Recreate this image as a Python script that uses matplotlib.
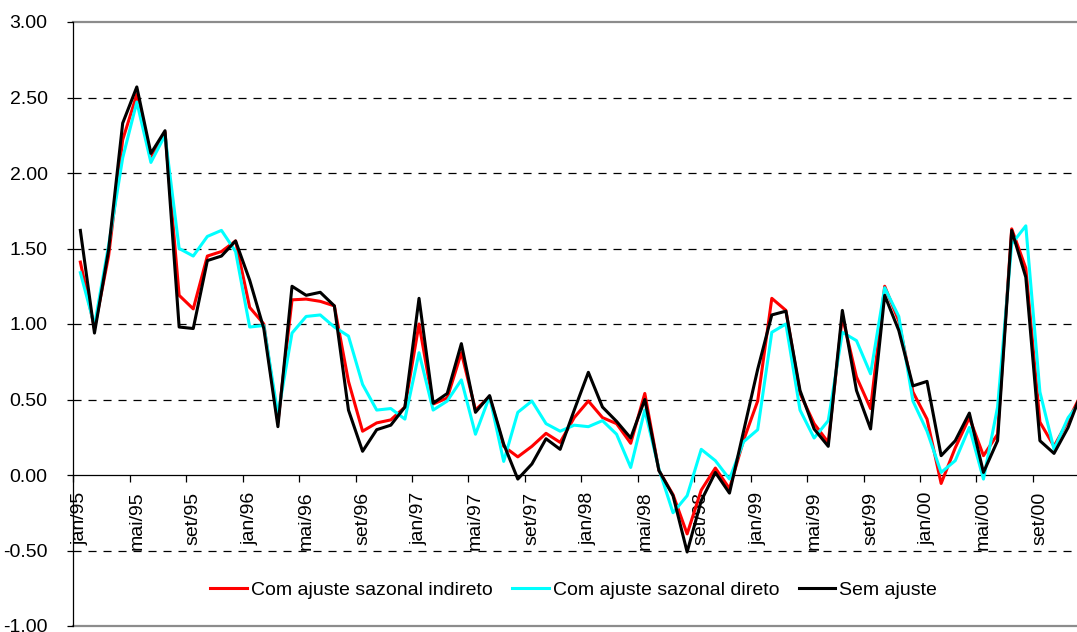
import matplotlib
matplotlib.use('Agg')
import matplotlib.pyplot as plt
from matplotlib.ticker import FixedLocator, FixedFormatter, FormatStrFormatter

# monthly series, jan/95 .. dez/00
month_names = ['jan', 'fev', 'mar', 'abr', 'mai', 'jun', 'jul', 'ago', 'set', 'out', 'nov', 'dez']
years = ['95', '96', '97', '98', '99', '00']
months = [m + '/' + y for y in years for m in month_names]

indireto = [1.41, 0.97, 1.45, 2.22, 2.52, 2.11, 2.27, 1.19, 1.10, 1.45, 1.48, 1.55,
            1.11, 1.00, 0.35, 1.16, 1.165, 1.15, 1.12, 0.62, 0.29, 0.345, 0.365, 0.45,
            1.00, 0.47, 0.51, 0.81, 0.43, 0.52, 0.19, 0.12, 0.19, 0.276, 0.216, 0.38,
            0.49, 0.38, 0.34, 0.21, 0.54, 0.03, -0.13, -0.39, -0.10, 0.046, -0.09, 0.23,
            0.49, 1.17, 1.09, 0.54, 0.34, 0.216, 1.05, 0.65, 0.44, 1.25, 1.02, 0.55,
            0.37, -0.056, 0.18, 0.38, 0.128, 0.27, 1.63, 1.37, 0.35, 0.19, 0.36, 0.55]

direto = [1.34, 0.99, 1.52, 2.10, 2.47, 2.07, 2.25, 1.50, 1.45, 1.58, 1.62, 1.48,
          0.98, 0.99, 0.40, 0.94, 1.05, 1.06, 0.98, 0.92, 0.60, 0.43, 0.44, 0.37,
          0.81, 0.43, 0.49, 0.63, 0.27, 0.52, 0.09, 0.415, 0.49, 0.34, 0.29, 0.33,
          0.32, 0.36, 0.27, 0.05, 0.43, 0.04, -0.25, -0.137, 0.17, 0.095, -0.027, 0.22,
          0.30, 0.945, 1.00, 0.43, 0.245, 0.36, 0.945, 0.89, 0.67, 1.24, 1.05, 0.49,
          0.29, 0.017, 0.095, 0.315, -0.027, 0.45, 1.53, 1.65, 0.55, 0.17, 0.38, 0.50]

sem_ajuste = [1.62, 0.94, 1.49, 2.33, 2.57, 2.13, 2.28, 0.98, 0.97, 1.42, 1.45, 1.55,
              1.29, 0.97, 0.32, 1.25, 1.19, 1.21, 1.12, 0.43, 0.157, 0.30, 0.33, 0.45,
              1.17, 0.475, 0.54, 0.87, 0.415, 0.526, 0.205, -0.027, 0.073, 0.24, 0.17, 0.43,
              0.68, 0.45, 0.355, 0.245, 0.50, 0.03, -0.137, -0.51, -0.17, 0.017, -0.12, 0.29,
              0.70, 1.06, 1.085, 0.56, 0.305, 0.19, 1.09, 0.56, 0.305, 1.19, 0.957, 0.59,
              0.62, 0.128, 0.227, 0.41, 0.017, 0.227, 1.62, 1.31, 0.227, 0.143, 0.315, 0.56]

y_ticks = [-1.0, -0.5, 0.0, 0.5, 1.0, 1.5, 2.0, 2.5, 3.0]

plt.rcParams['font.family'] = ['Liberation Sans', 'DejaVu Sans']
plt.rcParams['font.size'] = 14
plt.rcParams['lines.scale_dashes'] = False

W, H = 1077, 632
fig = plt.figure(figsize=(W / 100, H / 100), dpi=100)
# plot area runs past the right edge (the original is cropped there)
ax = fig.add_axes([73.3 / W, 6 / H, 1016 / W, 604 / H])

n = len(months)
x = [i + 0.5 for i in range(n)]

# gridlines first so the series sit on top
for v in y_ticks:
    if v in (-1.0, 3.0):
        ax.axhline(v, color='#8c8c8c', lw=1.6, zorder=1, clip_on=False)
    elif v != 0.0:
        ax.axhline(v, color='black', lw=0.9, ls=(0, (5.8, 5.0)), zorder=1)

ax.plot(x, indireto, color='#ff0000', lw=2.2, label='Com ajuste sazonal indireto', zorder=3)
ax.plot(x, direto, color='#00ffff', lw=2.2, label='Com ajuste sazonal direto', zorder=4)
ax.plot(x, sem_ajuste, color='black', lw=2.2, label='Sem ajuste', zorder=5)

ax.set_xlim(0, 72)
ax.set_ylim(-1, 3)

# x axis crosses at zero
ax.spines['bottom'].set_position(('data', 0))
ax.spines['bottom'].set_linewidth(0.9)
ax.spines['left'].set_linewidth(0.9)
ax.spines['top'].set_visible(False)
ax.spines['right'].set_visible(False)

ax.xaxis.set_major_locator(FixedLocator(list(range(0, 73, 4))))
ax.xaxis.set_major_formatter(FixedFormatter([''] * 19))
ax.xaxis.set_minor_locator(FixedLocator([i + 0.5 for i in range(0, n, 4)]))
ax.xaxis.set_minor_formatter(FixedFormatter([months[i] for i in range(0, n, 4)]))
ax.tick_params(axis='x', which='major', direction='out', length=5, width=0.9)
ax.tick_params(axis='x', which='minor', length=0, pad=12, labelrotation=90)

ax.set_yticks(y_ticks)
ax.yaxis.set_major_formatter(FormatStrFormatter('%.2f'))
ax.tick_params(axis='y', direction='out', length=4.5, width=0.9, pad=14)

leg = fig.legend(loc='center', bbox_to_anchor=(573.5 / W, 1 - 590 / H), ncol=3,
                 frameon=False, handlelength=1.9, handletextpad=0.2, columnspacing=1.0,
                 fontsize=14)

fig.savefig('out.png', dpi=100)
